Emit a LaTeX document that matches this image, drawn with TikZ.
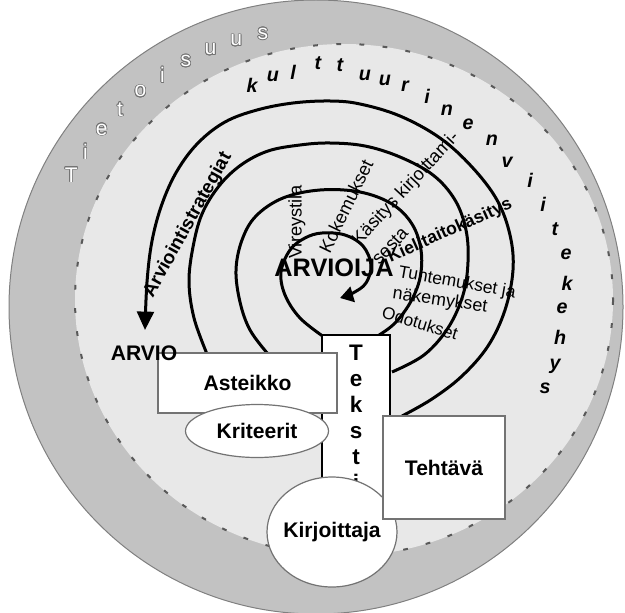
\documentclass[tikz,border=0pt]{standalone}
\usepackage{fontspec}
\setmainfont{Liberation Sans}
\usepackage{contour}
\contourlength{0.5pt}
\usetikzlibrary{arrows.meta,shapes.geometric}
\newcommand{\fsz}[1]{\fontsize{#1}{#1}\selectfont}

\begin{document}
\begin{tikzpicture}[x=0.25mm,y=-0.25mm,
  box/.style={draw=black!55,fill=white,line width=0.3mm,inner sep=0pt},
  oval/.style={box,ellipse},
  turn/.style={line width=0.75mm},
  ringletter/.style={font=\fsz{15},text=white},
  frameletter/.style={font=\bfseries\itshape\fsz{14}},
  boxtext/.style={font=\bfseries\fsz{15}},
  spiraltext/.style={font=\fsz{13}}]
\useasboundingbox (0,0) rectangle (625,612);
% awareness ring and cultural frame
\fill[black!24] (316,307) circle (307);
\draw[black!50,line width=0.25mm] (316,307) circle (307);
\draw[fill=black!9,draw=black!65,line width=0.5mm,dash pattern=on 1.2mm off 4.6mm] (344,300) ellipse (269 and 256);
\foreach \c [count=\i from 0] in {T,i,e,t,o,i,s,u,u,s}
  \node[ringletter] (tie\i) at ({316+278*cos(151.7-5.63*\i)},{307-278*sin(151.7-5.63*\i)}) {\contour{black!55}{\c}};
\foreach \c/\x/\y [count=\i] in {k/252/85,u/273/76,l/293/72,t/318/63,t/340/65,u/365/75,u/385/80,r/405/86,i/427/96,n/447/110,e/468/124,n/492/140,v/507/162,i/530/180,i/543/204,t/555/229,e/566/254,k/567/283,e/562/308,h/560/337,y/555/366,s/545/388}
  \node[frameletter] (kv\i) at (\x,\y) {\c};
% spiral
\draw[turn,-{Triangle[length=4.6mm,width=4.2mm]}] plot[smooth,tension=0.6] coordinates {(402,416) (432,399) (462,376) (488,346) (505,310) (513,270) (510,235) (497,200) (472,167) (440,138) (400,116) (360,104) (330,101) (293,103) (257,110) (225,122) (198,143) (177,171) (162,204) (152,241) (147,282) (145,330)};
\draw[turn] plot[smooth,tension=0.6] coordinates {(207,354) (194,318) (189,282) (193,247) (202,214) (219,186) (241,165) (268,151) (300,145) (330,143) (365,146) (400,157) (433,175) (455,200) (466,230) (468,262) (463,295) (448,328) (424,355) (392,372)};
\draw[turn] plot[smooth,tension=0.6] coordinates {(268,354) (250,330) (240,302) (236,270) (242,240) (256,216) (283,198) (320,190) (360,192) (392,204) (412,224) (421,250) (420,278) (410,303) (394,324) (376,337)};
\draw[turn,-{Triangle[length=3.3mm,width=3.9mm]}] plot[smooth,tension=0.6] coordinates {(324,337) (300,318) (285,295) (281,272) (290,250) (305,238) (322,233) (345,235) (363,246) (371,265) (366,283) (353,293) (340,298)};
% texts on the spiral
\node[font=\bfseries\fsz{13.5},rotate=61] (strat) at (188,225) {Arviointistrategiat};
\node[spiraltext,rotate=90] (vire) at (297,222) {Vireystila};
\node[spiraltext,rotate=64] (koke) at (346,206) {Kokemukset};
\node[spiraltext,rotate=47] (kasi) at (406,189) {Käsitys kirjoittami-};
\node[spiraltext,rotate=47] (sesta) at (390,246) {sesta};
\node[font=\bfseries\fsz{12.5},rotate=24] (kieli) at (450,231) {Kielitaitokäsitys};
\node[spiraltext,font=\fsz{12.4},rotate=-10] (tunt) at (457,283) {Tuntemukset ja};
\node[spiraltext,font=\fsz{12.7},rotate=-8] (nake) at (440,301) {näkemykset};
\node[spiraltext,font=\fsz{12.2},rotate=-17] (odot) at (420,323) {Odotukset};
\node[font=\bfseries\fsz{18}] (arvioija) at (334,268) {ARVIOIJA};
% boxes
\node[box,draw=black,line width=0.55mm,minimum width=17mm,minimum height=41.25mm,align=center,font=\bfseries\fontsize{16}{18.5}\selectfont] (teksti) at (356,417.5) {T\\e\\k\\s\\t\\i};
\node[box,boxtext,minimum width=44.75mm,minimum height=15mm] (asteikko) at (247.5,383) {Asteikko};
\node[oval,minimum width=35.75mm,minimum height=13.25mm,label={[boxtext]center:Kriteerit}] (kriteerit) at (257,431) {};
\node[oval,minimum width=32.5mm,minimum height=27.5mm,label={[boxtext]center:Kirjoittaja}] (kirjoittaja) at (332,532) {};
\node[box,boxtext,minimum width=30.5mm,minimum height=25.75mm] (tehtava) at (444,467.5) {Tehtävä};
\node[boxtext] (arvio) at (144,353) {ARVIO};
\end{tikzpicture}
\end{document}
